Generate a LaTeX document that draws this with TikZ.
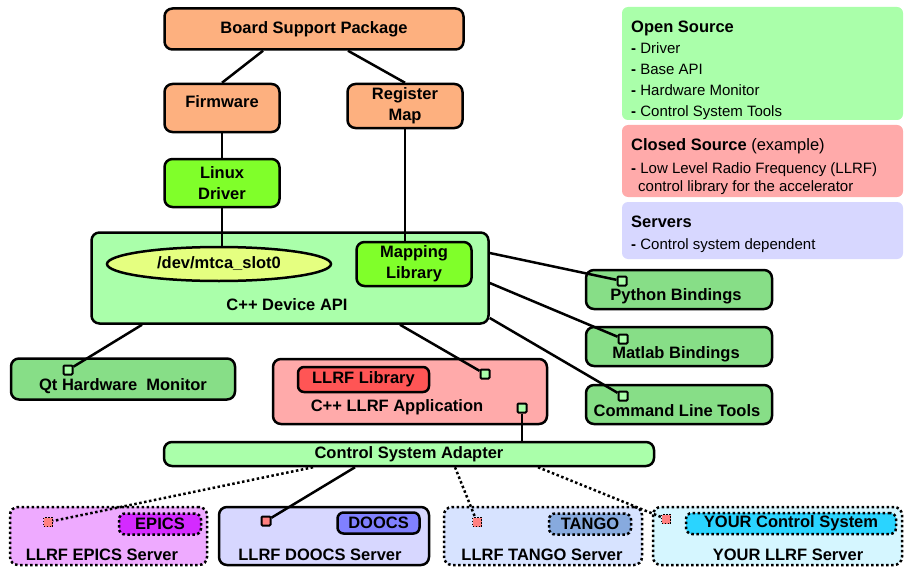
\documentclass[tikz,border=0pt]{standalone}
\usepackage{fontspec}
\setmainfont{Liberation Sans}
\usetikzlibrary{shapes.geometric}

\definecolor{bspOrange}{RGB}{253,176,127}
\definecolor{drvGreen}{RGB}{128,255,42}
\definecolor{apiGreen}{RGB}{170,255,170}
\definecolor{bindGreen}{RGB}{135,222,135}
\definecolor{devYellow}{RGB}{229,255,128}
\definecolor{appRed}{RGB}{255,170,170}
\definecolor{libRed}{RGB}{255,85,85}
\definecolor{srvBlue}{RGB}{215,215,255}
\definecolor{dooTag}{RGB}{128,128,255}
\definecolor{epiFill}{RGB}{238,170,255}
\definecolor{epiTag}{RGB}{212,42,255}
\definecolor{tanFill}{RGB}{215,227,255}
\definecolor{tanTag}{RGB}{135,170,222}
\definecolor{yourFill}{RGB}{213,246,255}
\definecolor{yourTag}{RGB}{42,212,255}
\definecolor{markRed}{RGB}{255,128,128}

\begin{document}
\begin{tikzpicture}[x=1pt, y=-1pt,
    box/.style={draw, line width=2.5pt, rounded corners=8pt, inner sep=0pt, align=center,
        font=\bfseries\fontsize{16.5}{21}\selectfont},
    dotbox/.style={box, dash pattern=on 2.5pt off 2.5pt},
    txt/.style={inner sep=0pt, align=center, font=\bfseries\fontsize{16.5}{21}\selectfont},
    legbox/.style={fill=#1, rounded corners=6pt, minimum width=281pt, inner sep=0pt},
    legtxt/.style={anchor=north west, inner sep=0pt, align=left, font=\fontsize{15}{21}\selectfont},
    link/.style={line width=2.5pt},
    dotlink/.style={line width=2.5pt, dash pattern=on 2.5pt off 2.5pt},
    port/.style={draw, line width=2pt, fill=#1, minimum size=9pt, inner sep=0pt, rounded corners=1pt},
    csmark/.style={draw, line width=1.5pt, dash pattern=on 1.5pt off 1.5pt, fill=markRed, minimum size=9pt, inner sep=0pt}
]
    \useasboundingbox (0,0) rectangle (904,567);

    % Hardware side
    \node[box, fill=bspOrange, minimum width=299pt, minimum height=41pt] (bsp) at (314,29) {Board Support Package};
    \node[box, fill=bspOrange, minimum width=115pt, minimum height=48pt] (fw) at (222,108) {};
    \node[txt] (fwtext) at (222,102) {Firmware};
    \node[box, fill=bspOrange, minimum width=115pt, minimum height=44pt] (reg) at (405,106) {Register\\Map};
    \node[box, fill=drvGreen, minimum width=115pt, minimum height=48pt] (drv) at (222,183) {Linux\\Driver};

    % Device API
    \node[box, fill=apiGreen, minimum width=397pt, minimum height=91pt] (api) at (290,278) {};
    \node[txt] (apitext) at (287,305) {C++ Device API};
    \node[draw, ellipse, line width=2.5pt, fill=devYellow, minimum width=224pt, minimum height=34pt, inner sep=0pt,
        font=\bfseries\fontsize{16.5}{21}\selectfont] (dev) at (219,264) {/dev/mtca\_slot0};
    \node[box, fill=drvGreen, minimum width=115pt, minimum height=44pt] (map) at (414,264) {Mapping\\Library};

    % Legend
    \node[legbox=apiGreen, minimum height=113pt] (open) at (762.5,63.5) {};
    \node[legtxt] (opentext) at (631,21) {{\bfseries\fontsize{16.5}{21}\selectfont Open Source}\\
        \textbf{-} Driver\\ \textbf{-} Base API\\ \textbf{-} Hardware Monitor\\ \textbf{-} Control System Tools};
    \node[legbox=appRed, minimum height=72pt] (closed) at (762.5,161) {};
    \node[legtxt] (closedtext) at (631,138) {{\fontsize{16.5}{21}\selectfont\textbf{Closed Source} (example)}\\[2pt]
        \textbf{-} Low Level Radio Frequency (LLRF)\\[-3pt] \hspace*{7pt}control library for the accelerator};
    \node[legbox=srvBlue, minimum height=57pt] (servers) at (762.5,230.5) {};
    \node[legtxt] (serverstext) at (631,216) {{\bfseries\fontsize{16.5}{21}\selectfont Servers}\\[1pt]
        \textbf{-} Control system dependent};

    % Tools and bindings
    \node[box, fill=bindGreen, minimum width=186pt, minimum height=39pt] (py) at (679,289.5) {};
    \node[txt] (pytext) at (676,296) {Python Bindings};
    \node[port=apiGreen] (pyport) at (622,281) {};
    \node[box, fill=bindGreen, minimum width=186pt, minimum height=39pt] (mat) at (679,346.5) {};
    \node[txt] (mattext) at (676,354) {Matlab Bindings};
    \node[port=apiGreen] (matport) at (623,339) {};
    \node[box, fill=bindGreen, minimum width=186pt, minimum height=39pt] (cli) at (679,404.5) {};
    \node[txt] (clitext) at (677,411) {Command Line Tools};
    \node[port=apiGreen] (cliport) at (623,396) {};
    \node[box, fill=bindGreen, minimum width=224pt, minimum height=41pt] (qt) at (123,379) {};
    \node[txt] (qttext) at (123,386) {Qt Hardware\ \ Monitor};
    \node[port=apiGreen] (qtport) at (68,370) {};

    % LLRF application
    \node[box, fill=appRed, minimum width=274pt, minimum height=65pt] (app) at (410,391.5) {};
    \node[box, fill=libRed, rounded corners=6pt, minimum width=131pt, minimum height=25pt] (lib) at (363.5,379.5) {LLRF Library};
    \node[txt] (apptext) at (397,407) {C++ LLRF Application};
    \node[port=apiGreen] (appin) at (485,374) {};
    \node[port=apiGreen] (appout) at (522,408) {};
    \node[box, fill=apiGreen, minimum width=490pt, minimum height=24pt] (csa) at (409,454) {Control System Adapter};

    % Control system servers
    \node[dotbox, fill=epiFill, minimum width=197pt, minimum height=58pt] (epics) at (108.5,536) {};
    \node[dotbox, fill=epiTag, rounded corners=6pt, minimum width=82pt, minimum height=21pt] (epicstag) at (160,524) {EPICS};
    \node[csmark] (epicsmark) at (48,522) {};
    \node[txt] (epicstext) at (102,555) {LLRF EPICS Server};

    \node[box, fill=srvBlue, minimum width=210pt, minimum height=58pt] (doocs) at (324,536) {};
    \node[box, fill=dooTag, rounded corners=6pt, minimum width=82pt, minimum height=21pt] (doocstag) at (378.5,523) {DOOCS};
    \node[port=markRed] (doocsmark) at (266,521) {};
    \node[txt] (doocstext) at (320,555) {LLRF DOOCS Server};

    \node[dotbox, fill=tanFill, minimum width=198pt, minimum height=58pt] (tango) at (543,536) {};
    \node[dotbox, fill=tanTag, rounded corners=6pt, minimum width=82pt, minimum height=21pt] (tangotag) at (590,524) {TANGO};
    \node[csmark] (tangomark) at (477,522) {};
    \node[txt] (tangotext) at (542,555) {LLRF TANGO Server};

    \node[dotbox, fill=yourFill, minimum width=249pt, minimum height=58pt] (your) at (777.5,536) {};
    \node[dotbox, fill=yourTag, rounded corners=6pt, minimum width=210pt, minimum height=21pt] (yourtag) at (791,523.5) {YOUR Control System};
    \node[csmark] (yourmark) at (666,519) {};
    \node[txt] (yourtext) at (788,555) {YOUR LLRF Server};

    % Connections
    \draw[link] ([xshift=-51pt]bsp.south) -- (fw.north);
    \draw[link] ([xshift=34pt]bsp.south) -- (reg.north);
    \draw[link] (fw.south) -- (drv.north);
    \draw[link] (drv.south) -- (drv.south |- dev.north);
    \draw[link] (reg.south) -- (reg.south |- map.north);
    \draw[link] ([yshift=25pt]api.east) -- (pyport);
    \draw[link] ([yshift=-5pt]api.east) -- (matport);
    \draw[link] ([yshift=-40pt]api.east) -- (cliport);
    \draw[link] ([xshift=-148pt]api.south) -- (qtport);
    \draw[link] ([xshift=110pt]api.south) -- (appin);
    \draw[link] (appout) -- (appout |- csa.north);
    \draw[dotlink] ([xshift=-96pt]csa.south) -- (epicsmark);
    \draw[link] ([xshift=-54pt]csa.south) -- (doocsmark);
    \draw[dotlink] ([xshift=46pt]csa.south) -- (tangomark);
    \draw[dotlink] ([xshift=129pt]csa.south) -- (yourmark);
\end{tikzpicture}
\end{document}
